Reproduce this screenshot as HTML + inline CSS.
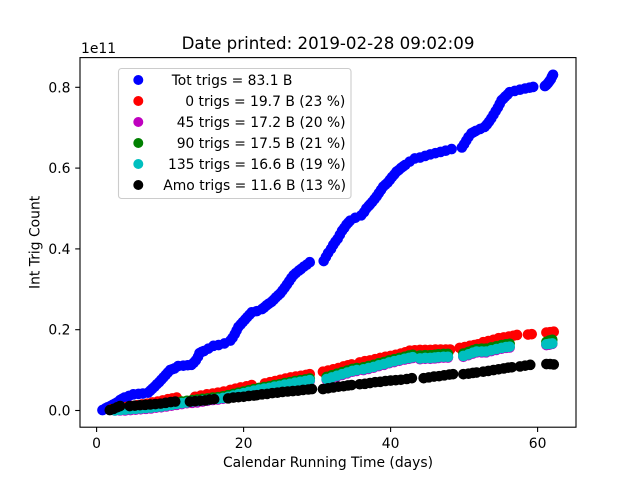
<!DOCTYPE html>
<html>
<head>
<meta charset="utf-8">
<title>Int Trig Count</title>
<style>
html,body{margin:0;padding:0;background:#fff;width:640px;height:480px;overflow:hidden}
svg{display:block}
text{font-family:"DejaVu Sans","Liberation Sans",sans-serif;font-size:13.89px;fill:#000}
</style>
</head>
<body>
<svg id="chart" width="640" height="480" viewBox="0 0 640 480" xmlns="http://www.w3.org/2000/svg">
  <rect x="0" y="0" width="640" height="480" fill="#fff"/>
  <text x="328" y="49" text-anchor="middle" style="font-size:16.67px">Date printed: 2019-02-28 09:02:09</text>
  <g id="marks"></g>
  <rect x="80" y="57.6" width="496" height="369.6" fill="none" stroke="#000" stroke-width="1.1"/>
  <g id="xticks"></g>
  <g id="yticks"></g>
  <text x="81" y="53">1e11</text>
  <text x="328" y="467" text-anchor="middle">Calendar Running Time (days)</text>
  <text x="0" y="0" text-anchor="middle" transform="translate(39.5 242.4) rotate(-90)">Int Trig Count</text>
  <rect x="118.5" y="68.5" width="232.5" height="130" rx="3" fill="#fff" fill-opacity="0.8" stroke="#ccc" stroke-width="1.1"/>
  <g id="legend"></g>
</svg>
<script>
const totDays = [
  0.8,1.2,1.5,1.9,2.2,2.5,2.8,3.2,3.5,3.8,
  4.4,5,5.7,6.3,7,7.3,7.6,7.9,8.2,8.5,
  8.8,9.1,9.4,9.7,10,10.3,10.6,11.1,11.8,12.4,
  12.9,13.2,13.5,13.8,14,14.3,14.6,15.2,15.9,16.6,
  17.4,18.2,18.5,18.8,19.05,19.3,19.6,19.9,20.2,20.5,
  20.8,21.1,21.8,22.5,22.8,23.1,23.4,23.8,24.1,24.4,
  24.7,25,25.3,25.6,25.9,26.2,26.5,26.8,27.1,27.5,
  27.8,28.2,28.6,29,
  30.9,31.2,31.5,31.9,32.2,32.5,32.8,33.1,33.4,33.7,
  34,34.25,34.5,35.2,36,36.4,36.7,37,37.2,37.5,
  37.8,38.1,38.4,38.7,39,39.3,39.6,39.9,40.2,40.5,
  40.8,41.1,41.4,41.7,42,42.6,43.3,44,44.7,45.4,
  46.1,46.8,47.5,48.3,
  49.7,50,50.3,50.6,51,51.3,51.6,52.2,52.8,53.1,
  53.4,53.7,54,54.3,54.6,54.85,55.1,55.35,55.6,55.9,
  56.2,56.9,57.6,58.3,58.9,59.4,
  61,61.2,61.4,61.6,61.8,61.95,62.1
];
const totValues = [
  0.1,0.5,0.8,1.1,1.4,1.7,2,2.6,2.9,3.2,
  3.6,4,4.1,4.2,4.4,4.9,5.4,5.9,6.5,7,
  7.6,8.2,8.8,9.4,10,10.2,10.4,11,11.1,11.2,
  11.3,11.8,12.4,13.3,14.2,14.5,14.7,15.3,16,16.2,
  16.6,17.3,18,18.9,19.8,20.7,21.3,21.9,22.5,23.1,
  23.7,24.3,24.6,25.1,25.5,26,26.4,26.9,27.4,28,
  28.5,29,29.7,30.4,31.2,32,32.8,33.5,34,34.6,
  35,35.6,36.1,36.7,
  37,38,39,40,41,41.8,42.5,43.5,44.5,45.2,
  46,46.5,47,47.7,48.3,49.1,50,50.6,51,51.6,
  52.3,53,53.8,54.6,55.4,55.9,56.4,57.1,57.8,58.4,
  59.1,59.5,60,60.4,60.8,61.6,62.4,62.6,63,63.4,
  63.7,64,64.3,64.7,
  65.1,65.9,66.8,67.7,68.6,68.9,69.2,69.7,70.2,70.8,
  71.5,72.3,73.2,74.1,75,75.9,76.8,77.2,77.7,78.2,
  78.8,79.1,79.4,79.7,79.9,80.1,
  80.3,80.6,81,81.5,82,82.6,83.1
];
const zeroDays = [
  2,2.7,3.4,4.1,4.8,5.5,6.2,6.9,7.6,8.3,9,9.7,10.3,10.9,
  13.4,14.2,15,15.8,16.5,17.3,18.2,18.9,19.6,20.4,21.1,
  22.9,23.6,24.3,25,25.7,26.4,27.1,27.8,28.5,29,
  30.8,31.5,32.2,32.9,33.6,34.2,34.7,
  35.8,36.5,37.2,37.9,38.6,39.3,40,40.7,41.4,42,42.6,43.3,44,44.7,45.4,46.1,46.8,47.5,48.1,
  49.4,50.1,50.8,51.4,51.9,52.6,53.3,54,54.7,55.4,56.1,56.7,57.2,
  58.7,59.2,
  61.2,61.7,62.2
];
const zeroValues = [
  0.3,0.5,0.7,0.9,1.1,1.3,1.5,1.7,2,2.2,2.5,2.8,3,3.2,
  3.4,3.7,4,4.2,4.4,4.7,5.1,5.4,5.7,6,6.3,
  6.7,7,7.3,7.6,7.9,8.2,8.4,8.6,8.8,9,
  9.6,9.9,10.2,10.5,10.9,11.2,11.4,
  11.9,12.2,12.4,12.7,13,13.3,13.5,13.8,14.1,14.4,14.8,14.9,15,15,15,15.1,15.1,15.1,15.1,
  15.5,15.7,16,16.2,16.4,16.9,17.2,17.5,17.9,18.1,18.3,18.5,18.7,
  18.8,18.9,
  19.3,19.4,19.5
];
const midDays = [
  2.5,3.2,3.9,4.6,5.3,6,6.7,7.4,8.1,8.8,9.5,10.2,10.9,11.6,12.3,13,13.7,14.4,15.1,15.8,
  16.5,17.2,17.9,18.6,19.3,20,20.7,21.4,22.1,22.8,23.5,24.2,24.9,25.6,26.3,27,27.7,28.4,29,
  31.3,32,32.7,33.4,34.1,34.8,35.4,
  36.3,37,37.7,38.4,39.1,39.8,40.5,41.2,41.9,42.5,43,
  44,44.7,45.4,46,46.5,47.2,47.8,
  49.9,50.6,51.2,51.7,52.4,53,53.7,54.4,55.1,55.7,56.2,
  61.2,61.6,62
];
const deg45Values = [
  0,0,0,0.1,0.2,0.3,0.4,0.5,0.7,0.8,1,1.2,1.4,1.6,1.8,1.9,2,2.2,2.4,2.6,
  2.7,2.9,3.2,3.5,3.8,4.1,4.4,4.7,5,5.2,5.4,5.7,5.9,6.2,6.4,6.7,6.9,7.1,7.3,
  7.6,8,8.4,8.8,9.2,9.6,9.8,
  10,10.3,10.6,11,11.3,11.7,12,12.3,12.6,12.8,13,
  12.7,12.8,12.8,12.9,13,13.1,13.1,
  13.3,13.7,14.1,14.4,14.4,14.4,14.7,15,15.3,15.5,15.6,
  16.2,16.3,16.5
];
const deg90Values = [
  0.3,0.4,0.5,0.6,0.7,0.8,1,1.1,1.2,1.4,1.6,1.8,2,2.2,2.4,2.6,2.7,2.9,3,3.2,
  3.3,3.5,3.8,4.1,4.4,4.7,5,5.3,5.6,5.8,6,6.3,6.5,6.8,7,7.3,7.5,7.7,7.9,
  8.3,8.7,9.1,9.5,9.9,10.3,10.5,
  10.7,11,11.3,11.7,12,12.4,12.7,13,13.3,13.6,13.8,
  13.6,13.7,13.7,13.8,13.9,14,14,
  14.1,14.5,14.9,15.2,15.3,15.3,15.6,15.9,16.2,16.4,16.5,
  17,17.3,17.5
];
const deg135Values = [
  0,0.1,0.2,0.3,0.4,0.5,0.6,0.7,0.9,1,1.2,1.4,1.6,1.8,2,2.2,2.3,2.5,2.6,2.8,
  2.9,3.1,3.4,3.7,4,4.3,4.6,4.9,5.2,5.4,5.6,5.9,6.1,6.4,6.6,6.9,7.1,7.3,7.5,
  7.8,8.2,8.6,9,9.4,9.8,10,
  10.2,10.5,10.8,11.2,11.5,11.9,12.2,12.5,12.8,13,13.2,
  12.9,13,13,13.1,13.2,13.3,13.3,
  13.5,13.9,14.3,14.6,14.6,14.6,14.9,15.2,15.5,15.7,15.8,
  16.4,16.5,16.6
];
const amoDays = [
  1.8,2.3,2.8,3.2,
  4.5,5.2,5.9,6.6,7.3,8,8.7,9.4,10.1,10.7,
  12.7,13.4,14.1,14.8,15.4,16,
  17.9,18.6,19.3,20,20.7,21.4,21.8,22.5,23.2,23.9,24.6,25.3,26,26.7,27.4,28.1,28.8,29.3,
  30.8,31.5,32.2,32.9,33.6,34.2,34.7,
  35.8,36.5,37.2,37.9,38.6,39.3,40,40.7,41.4,42.2,42.9,
  44.5,45.2,45.9,46.6,47.3,48,48.5,
  49.9,50.6,51.2,51.7,
  52.6,53.3,54,54.7,55.4,56,56.5,
  57.6,58.3,59,
  61.2,61.7,62.2
];
const amoValues = [
  0.1,0.4,0.8,1.1,
  1.1,1.2,1.3,1.4,1.5,1.6,1.7,1.9,2.1,2.2,
  2.2,2.3,2.4,2.5,2.7,2.8,
  3,3.2,3.3,3.4,3.6,3.7,3.8,4,4.1,4.3,4.4,4.6,4.7,4.8,4.9,5.1,5.2,5.3,
  5.3,5.5,5.7,5.9,6,6.2,6.3,
  6.5,6.6,6.8,7,7.1,7.3,7.4,7.5,7.6,7.8,8,
  8,8.2,8.4,8.5,8.7,8.9,9,
  9,9.1,9.3,9.4,
  9.6,9.8,10,10.2,10.4,10.6,10.7,
  10.9,11.1,11.3,
  11.5,11.5,11.4
];
const xTickValues = [0, 20, 40, 60];
const yTickValues = [0, 20, 40, 60, 80];
const yTickLabels = ['0.0', '0.2', '0.4', '0.6', '0.8'];
const legendLabels = [
  'Tot trigs = 83.1 B',
  '0 trigs = 19.7 B (23 %)',
  '45 trigs = 17.2 B (20 %)',
  '90 trigs = 17.5 B (21 %)',
  '135 trigs = 16.6 B (19 %)',
  'Amo trigs = 11.6 B (13 %)'
];

const NS = 'http://www.w3.org/2000/svg';
function xScale(d) { return 96.6 + 7.35 * d; }
function yScale(v) { return 410.5 - 4.04 * v; }
function make(tag, parent, attrs) {
  const el = document.createElementNS(NS, tag);
  for (const k in attrs) el.setAttribute(k, attrs[k]);
  parent.appendChild(el);
  return el;
}

const seriesList = [
  { key: 'tot', color: '#0000ff', days: totDays, values: totValues, textX: 171.7 },
  { key: 'deg0', color: '#ff0000', days: zeroDays, values: zeroValues, textX: 185.3 },
  { key: 'deg45', color: '#bf00bf', days: midDays, values: deg45Values, textX: 176.7 },
  { key: 'deg90', color: '#008000', days: midDays, values: deg90Values, textX: 176.7 },
  { key: 'deg135', color: '#00bfbf', days: midDays, values: deg135Values, textX: 168 },
  { key: 'amo', color: '#000000', days: amoDays, values: amoValues, textX: 163.3 }
];

const marks = document.getElementById('marks');
seriesList.forEach(function (s) {
  const group = make('g', marks, {});
  
  
  s.days.forEach(function (d, i) {
    const dot = make('circle', group, { cx: xScale(d), cy: yScale(s.values[i]), r: 5.3, fill: s.color });
    
    
  });
});

const xticks = document.getElementById('xticks');
xTickValues.forEach(function (t) {
  const x = xScale(t);
  const tick = make('line', xticks, { x1: x, x2: x, y1: 427.2, y2: 432, stroke: '#000', 'stroke-width': 1.1 });
  
  
  const label = make('text', xticks, { x: x, y: 448, 'text-anchor': 'middle' });
  label.textContent = String(t);
  
  
});

const yticks = document.getElementById('yticks');
yTickValues.forEach(function (t, i) {
  const y = yScale(t);
  const tick = make('line', yticks, { x1: 75.2, x2: 80, y1: y, y2: y, stroke: '#000', 'stroke-width': 1.1 });
  
  
  const label = make('text', yticks, { x: 70.5, y: y + 5, 'text-anchor': 'end' });
  label.textContent = yTickLabels[i];
  
  
});

const legend = document.getElementById('legend');
seriesList.forEach(function (s, i) {
  const y = 80 + 21 * i;
  const swatch = make('circle', legend, { cx: 138.3, cy: y, r: 5, fill: s.color });
  
  
  const label = make('text', legend, { x: s.textX, y: y + 5 });
  label.textContent = legendLabels[i];
  
  
});
</script>
</body>
</html>
